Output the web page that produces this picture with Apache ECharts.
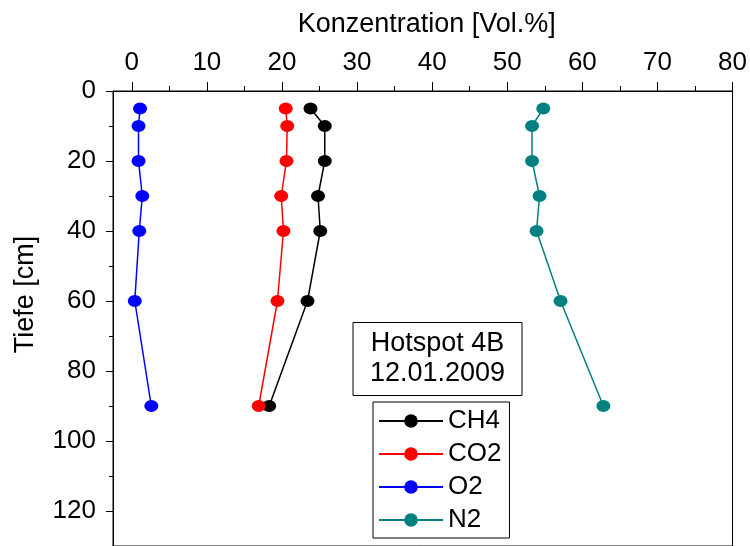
<!DOCTYPE html>
<html>
<head>
<meta charset="utf-8">
<title>Hotspot 4B</title>
<script src="https://cdn.jsdelivr.net/npm/echarts@6/dist/echarts.min.js"></script>
<style>
	html, body { margin: 0; padding: 0; background: #fff; }
	#chart { width: 750px; height: 546px; }
</style>
</head>
<body>
<div id="chart"></div>
<script>
// depth of each sample [cm]
const depths = [5, 10, 20, 30, 40, 60, 90];

// concentrations [Vol.%]
const ch4 = [23.8, 25.7, 25.7, 24.8, 25.1, 23.4, 18.3];
const co2 = [20.5, 20.7, 20.6, 19.9, 20.2, 19.4, 16.9];
const o2 = [1.1, 0.9, 0.9, 1.4, 1.0, 0.4, 2.6];
const n2 = [54.8, 53.3, 53.3, 54.3, 53.9, 57.1, 62.8];

const seriesNames = ['CH4', 'CO2', 'O2', 'N2'];
const seriesColors = ['#000000', '#ff0000', '#0000ff', '#008080'];

const xTicks = [0, 10, 20, 30, 40, 50, 60, 70, 80];
const yTicks = [0, 20, 40, 60, 80, 100, 120];

const FONT = "'Liberation Sans', Arial, sans-serif";

const toPairs = (values) => values.map((v, i) => [v, depths[i]]);

const makeSeries = (name, values, color) => ({
	name: name,
	type: 'line',
	data: toPairs(values),
	symbol: 'circle',
	symbolSize: [14, 12],
	color: color,
	lineStyle: { color: color, width: 1.5 },
	itemStyle: { color: color },
});

const myChart = echarts.init(document.getElementById('chart'));

const option = {
	animation: false,
	backgroundColor: '#fff',
	textStyle: { fontFamily: FONT, color: '#000' },
	grid: {
		left: 113,
		top: 91,
		width: 622,
		height: 460,
		show: true,
		borderColor: '#000',
		borderWidth: 1,
		containLabel: false,
	},
	title: {
		text: 'Hotspot 4B\n12.01.2009',
		left: 420.5,
		top: 322,
		textAlign: 'center',
		padding: [7, 17, 7, 17],
		borderColor: '#000',
		borderWidth: 1,
		textStyle: {
			fontFamily: FONT,
			fontSize: 27,
			fontWeight: 'normal',
			color: '#000',
			lineHeight: 30,
		},
	},
	legend: {
		orient: 'vertical',
		left: 373,
		top: 402,
		padding: [6, 8, 5, 5],
		borderColor: '#000',
		borderWidth: 1,
		itemWidth: 64,
		itemHeight: 17,
		itemGap: 7,
		data: seriesNames,
		textStyle: { fontFamily: FONT, fontSize: 26, color: '#000' },
	},
	xAxis: {
		type: 'value',
		position: 'top',
		min: -2.5,
		max: 80,
		splitNumber: 8,
		name: 'Konzentration [Vol.%]',
		nameLocation: 'middle',
		nameGap: 53,
		nameTextStyle: {
			fontFamily: FONT,
			fontSize: 27,
			color: '#000',
			padding: [0, 0, 0, 8],
		},
		axisLine: { show: true, onZero: false, lineStyle: { color: '#000', width: 1 } },
		axisTick: {
			show: true,
			inside: false,
			length: 9,
			customValues: xTicks,
			lineStyle: { color: '#000', width: 1 },
		},
		minorTick: {
			show: true,
			splitNumber: 2,
			length: 5,
			lineStyle: { color: '#000', width: 1 },
		},
		axisLabel: {
			customValues: xTicks,
			margin: 15,
			fontFamily: FONT,
			fontSize: 26,
			color: '#000',
		},
		splitLine: { show: false },
	},
	yAxis: {
		type: 'value',
		inverse: true,
		min: 0,
		max: 130,
		interval: 20,
		name: 'Tiefe [cm]',
		nameLocation: 'middle',
		nameGap: 74,
		nameTextStyle: {
			fontFamily: FONT,
			fontSize: 27,
			color: '#000',
			padding: [0, 0, 0, 48],
		},
		axisLine: { show: true, onZero: false, lineStyle: { color: '#000', width: 1 } },
		axisTick: {
			show: true,
			inside: false,
			length: 7,
			customValues: yTicks,
			lineStyle: { color: '#000', width: 1 },
		},
		minorTick: {
			show: true,
			splitNumber: 2,
			length: 4,
			lineStyle: { color: '#000', width: 1 },
		},
		axisLabel: {
			customValues: yTicks,
			margin: 17,
			fontFamily: FONT,
			fontSize: 26,
			color: '#000',
		},
		splitLine: { show: false },
	},
	series: [
		makeSeries(seriesNames[0], ch4, seriesColors[0]),
		makeSeries(seriesNames[1], co2, seriesColors[1]),
		makeSeries(seriesNames[2], o2, seriesColors[2]),
		makeSeries(seriesNames[3], n2, seriesColors[3]),
	],
};

myChart.setOption(option);
</script>
</body>
</html>
